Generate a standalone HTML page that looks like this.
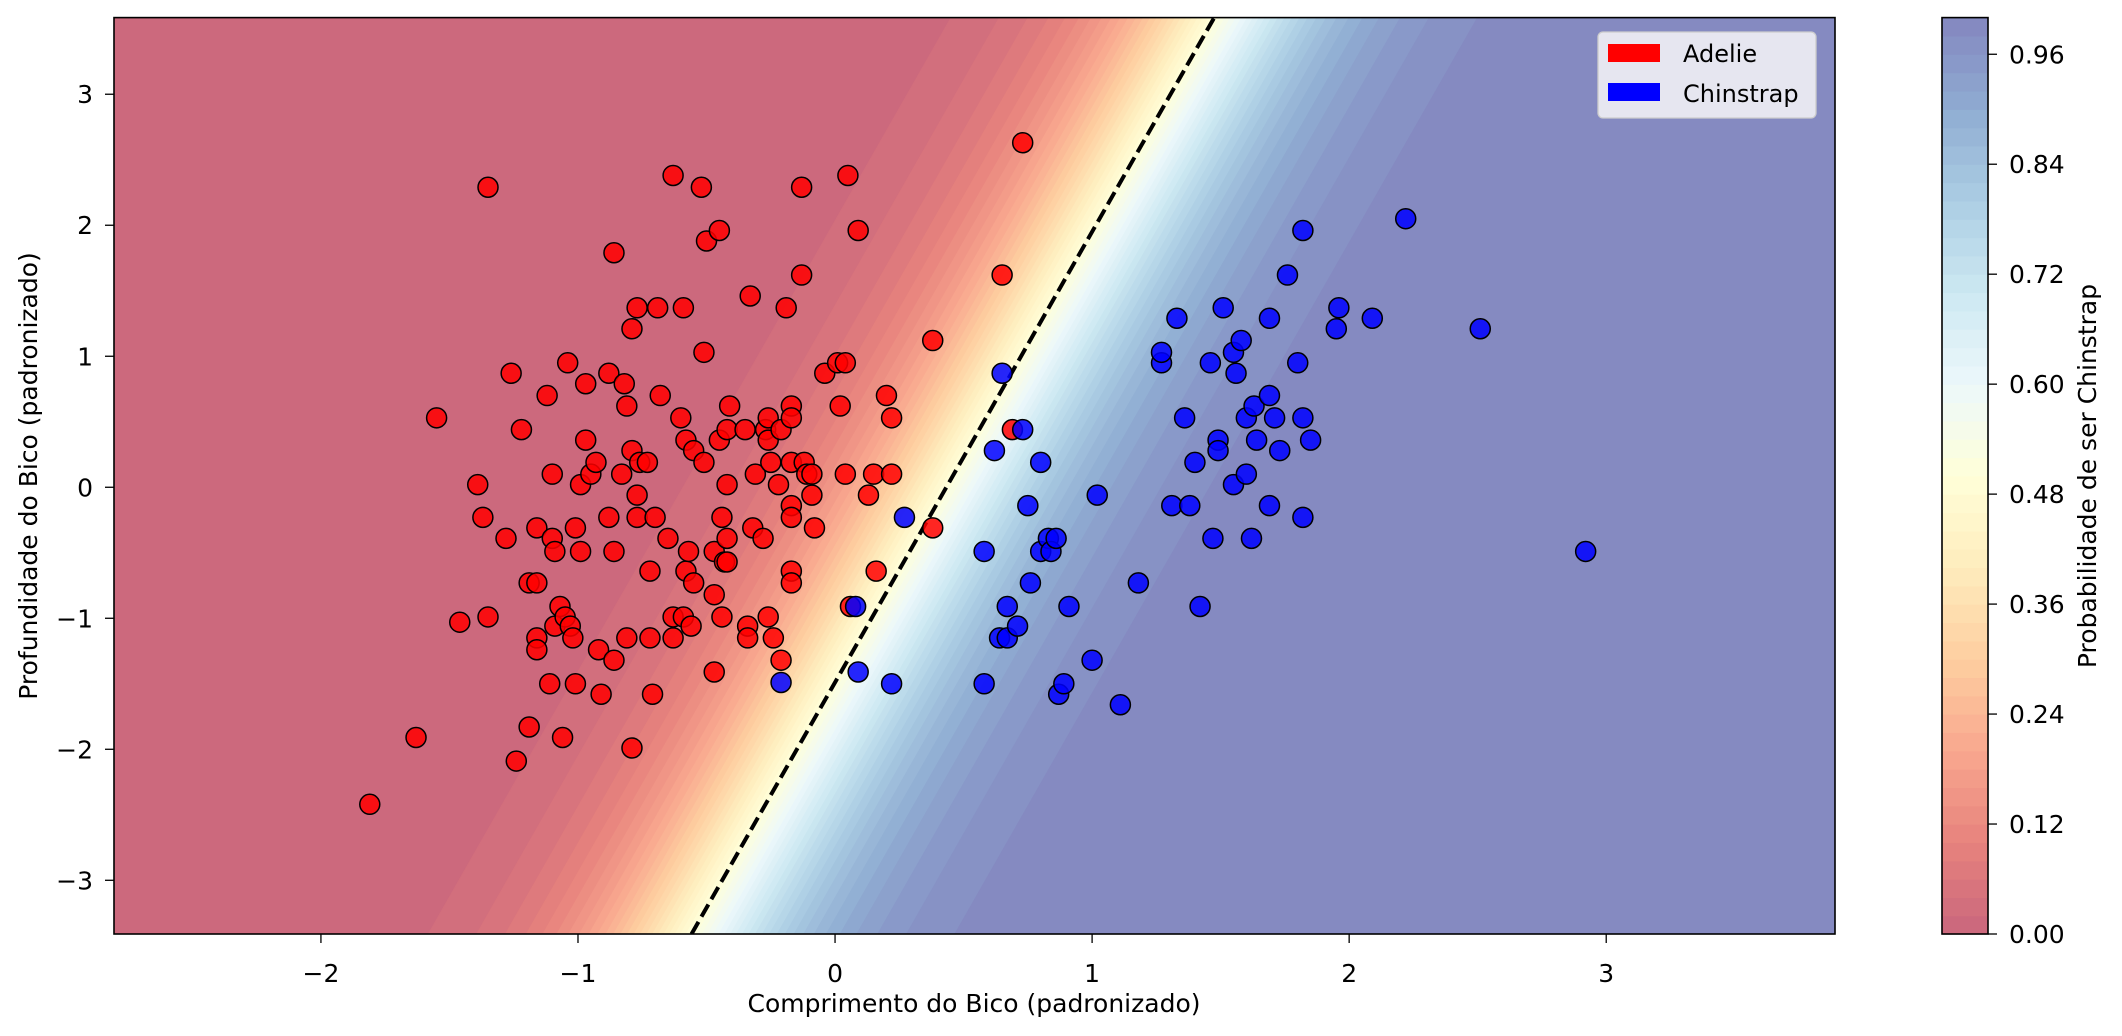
<!DOCTYPE html>
<html><head><meta charset="utf-8"><style>
html,body{margin:0;padding:0;background:#fff;}
svg{display:block;font-family:"DejaVu Sans","Liberation Sans",sans-serif;}
</style></head><body>
<svg id="chart" width="2122" height="1036" viewBox="0 0 2122 1036" xmlns="http://www.w3.org/2000/svg">
<defs><clipPath id="pc"><rect x="114" y="17.6" width="1721" height="916.4"/></clipPath></defs>
<g id="bg" clip-path="url(#pc)"></g>
<g id="pts" clip-path="url(#pc)"></g>
<g id="axes"></g>
<g id="cbar"></g>
<g>
<rect x="1598" y="32" width="218" height="86" rx="5" fill="#e6e6f0" stroke="#cccccc" stroke-width="1.3"/>
<rect x="1608" y="44" width="52" height="18" fill="#ff0000"/>
<text x="1683" y="62" font-size="24">Adelie</text>
<rect x="1608" y="83" width="52" height="18" fill="#0000ff"/>
<text x="1683" y="102" font-size="24">Chinstrap</text>
</g>
<text x="974" y="1012" font-size="25" text-anchor="middle">Comprimento do Bico (padronizado)</text>
<text transform="translate(37,476) rotate(-90)" font-size="25" text-anchor="middle">Profundidade do Bico (padronizado)</text>
<text transform="translate(2096,476) rotate(-90)" font-size="25" text-anchor="middle">Probabilidade de ser Chinstrap</text>
</svg>
<script>
const xTicks=[-2,-1,0,1,2,3];
const yTicks=[-3,-2,-1,0,1,2,3];
const cbTicks=[0,0.12,0.24,0.36,0.48,0.60,0.72,0.84,0.96];
const boundaryIntercept=0.433;
const boundarySlope=3.44;
const steepness=3.8;
const adelieX=[-1.81,-1.63,-1.55,-1.46,-1.39,-1.37,-1.35,-1.35,-1.28,-1.26,-1.24,-1.22,-1.19,-1.19,-1.16,-1.16,-1.16,-1.16,-1.12,-1.11,-1.10,-1.10,-1.09,-1.09,-1.07,-1.06,-1.05,-1.04,-1.03,-1.02,-1.01,-1.01,-0.99,-0.99,-0.97,-0.97,-0.95,-0.93,-0.92,-0.91,-0.88,-0.88,-0.86,-0.86,-0.86,-0.83,-0.82,-0.81,-0.81,-0.79,-0.79,-0.79,-0.77,-0.77,-0.77,-0.76,-0.73,-0.72,-0.72,-0.71,-0.70,-0.69,-0.68,-0.65,-0.63,-0.63,-0.63,-0.60,-0.59,-0.59,-0.58,-0.58,-0.57,-0.56,-0.55,-0.55,-0.52,-0.51,-0.51,-0.50,-0.47,-0.47,-0.47,-0.45,-0.45,-0.44,-0.44,-0.43,-0.42,-0.42,-0.42,-0.41,-0.42,-0.35,-0.34,-0.34,-0.33,-0.32,-0.31,-0.28,-0.27,-0.26,-0.26,-0.26,-0.25,-0.24,-0.22,-0.21,-0.21,-0.19,-0.17,-0.17,-0.17,-0.17,-0.17,-0.17,-0.17,-0.13,-0.13,-0.12,-0.11,-0.09,-0.08,-0.09,-0.04,0.01,0.02,0.04,0.04,0.05,0.06,0.09,0.13,0.15,0.16,0.20,0.22,0.22,0.38,0.38,0.65,0.69,0.73];
const adelieY=[-2.42,-1.91,0.53,-1.03,0.02,-0.23,-0.99,2.29,-0.39,0.87,-2.09,0.44,-0.73,-1.83,-0.73,-1.15,-1.24,-0.31,0.70,-1.50,0.10,-0.39,-1.06,-0.49,-0.91,-1.91,-0.99,0.95,-1.06,-1.15,-0.31,-1.50,0.02,-0.49,0.79,0.36,0.10,0.19,-1.24,-1.58,0.87,-0.23,-0.49,-1.32,1.79,0.10,0.79,-1.15,0.62,0.28,1.21,-1.99,1.37,-0.06,-0.23,0.19,0.19,-0.64,-1.15,-1.58,-0.23,1.37,0.70,-0.39,2.38,-1.15,-0.99,0.53,1.37,-0.99,-0.64,0.36,-0.49,-1.06,-0.73,0.28,2.29,1.03,0.19,1.88,-0.49,-1.41,-0.82,1.96,0.36,-0.23,-0.99,-0.57,0.44,0.02,-0.39,0.62,-0.57,0.44,-1.06,-1.15,1.46,-0.31,0.10,-0.39,0.44,-0.99,0.53,0.36,0.19,-1.15,0.02,0.44,-1.32,1.37,0.62,0.53,0.19,-0.14,-0.23,-0.64,-0.73,2.29,1.62,0.19,0.10,-0.06,-0.31,0.10,0.87,0.95,0.62,0.95,0.10,2.38,-0.91,1.96,-0.06,0.10,-0.64,0.70,0.53,0.10,1.12,-0.31,1.62,0.44,2.63];
const chinX=[-0.21,0.08,0.09,0.22,0.27,0.58,0.58,0.62,0.64,0.65,0.67,0.67,0.71,0.73,0.75,0.76,0.80,0.80,0.83,0.84,0.86,0.87,0.89,0.91,1.00,1.02,1.11,1.18,1.27,1.27,1.31,1.33,1.36,1.38,1.40,1.42,1.46,1.47,1.49,1.49,1.51,1.55,1.55,1.56,1.58,1.60,1.60,1.62,1.63,1.64,1.69,1.69,1.69,1.71,1.73,1.76,1.80,1.82,1.82,1.82,1.85,1.95,1.96,2.09,2.22,2.51,2.92];
const chinY=[-1.49,-0.91,-1.41,-1.50,-0.23,-0.49,-1.50,0.28,-1.15,0.87,-1.15,-0.91,-1.06,0.44,-0.14,-0.73,-0.49,0.19,-0.39,-0.49,-0.39,-1.58,-1.50,-0.91,-1.32,-0.06,-1.66,-0.73,0.95,1.03,-0.14,1.29,0.53,-0.14,0.19,-0.91,0.95,-0.39,0.36,0.28,1.37,0.02,1.03,0.87,1.12,0.10,0.53,-0.39,0.62,0.36,1.29,0.70,-0.14,0.53,0.28,1.62,0.95,1.96,0.53,-0.23,0.36,1.21,1.37,1.29,2.05,1.21,-0.49];

const NS='http://www.w3.org/2000/svg';
const X0=-2.805,X1=3.89,Y0=-3.41,Y1=3.585;
const PL=114,PR=1835,PT=17.6,PB=934;
function sx(x){return PL+(x-X0)/(X1-X0)*(PR-PL);}
function sy(y){return PB-(y-Y0)/(Y1-Y0)*(PB-PT);}
function mk(tag,attrs,parent){const e=document.createElementNS(NS,tag);for(const k in attrs)e.setAttribute(k,attrs[k]);parent.appendChild(e);return e;}
const cm=[[165,0,38],[215,48,39],[244,109,67],[253,174,97],[254,224,144],[255,255,191],[224,243,248],[171,217,233],[116,173,209],[69,117,180],[49,54,149]];
function cmap(t){t=Math.max(0,Math.min(1,t));const f=t*10,i=Math.min(9,Math.floor(f)),r=f-i;const c=cm[i].map((v,k)=>v+(cm[i+1][k]-v)*r).map(v=>Math.round(v*0.6+255*0.4));return 'rgb('+c.join(',')+')';}
function logit(p){if(p<=0)return -60;if(p>=1)return 60;return Math.log(p/(1-p));}
function bx(p,y){return boundaryIntercept+y/boundarySlope+logit(p)/steepness;}
const N=50;
const bg=document.getElementById('bg');
for(let i=0;i<N;i++){
 const p0=i/N,p1=(i+1)/N,col=cmap((i+0.5)/N);
 const pts=[[bx(p0,Y1),Y1],[bx(p1,Y1),Y1],[bx(p1,Y0),Y0],[bx(p0,Y0),Y0]].map(a=>sx(a[0]).toFixed(1)+','+sy(a[1]).toFixed(1)).join(' ');
 const e=mk('polygon',{points:pts,fill:col,stroke:col,'stroke-width':0.8},bg);
 
 
}
const dl=mk('line',{x1:sx(bx(0.5,Y0)),y1:sy(Y0),x2:sx(bx(0.5,Y1)),y2:sy(Y1),stroke:'#000','stroke-width':4,'stroke-dasharray':'14,6'},bg);


const pg=document.getElementById('pts');
function drawPts(xs,ys,fill,name){for(let i=0;i<xs.length;i++){const c=mk('circle',{cx:sx(xs[i]),cy:sy(ys[i]),r:10,fill:fill,'fill-opacity':0.85,stroke:'#000','stroke-width':1.5},pg);
 
 }}
drawPts(adelieX,adelieY,'#ff0000','adelie-point');
drawPts(chinX,chinY,'#0000ff','chinstrap-point');
const ax=document.getElementById('axes');
const fr=mk('rect',{x:PL,y:PT,width:PR-PL,height:PB-PT,fill:'none',stroke:'#000','stroke-width':1.6},ax);


xTicks.forEach(t=>{const x=sx(t);mk('line',{x1:x,y1:PB,x2:x,y2:PB+9,stroke:'#000','stroke-width':1.3},ax);
 const tx=mk('text',{x:x,y:PB+48,'font-size':25,'text-anchor':'middle'},ax);tx.textContent=(t<0?'\u2212'+(-t):t);
 
 });
yTicks.forEach(t=>{const y=sy(t);mk('line',{x1:PL-9,y1:y,x2:PL,y2:y,stroke:'#000','stroke-width':1.3},ax);
 const tx=mk('text',{x:PL-21,y:y+9,'font-size':25,'text-anchor':'end'},ax);tx.textContent=(t<0?'\u2212'+(-t):t);
 
 });
const cb=document.getElementById('cbar');
const CL=1942,CR=1988;
function cy(v){return PB-v*(PB-PT);}
for(let i=0;i<N;i++){const r=mk('rect',{x:CL,y:cy((i+1)/N),width:CR-CL,height:cy(i/N)-cy((i+1)/N)+0.6,fill:cmap((i+0.5)/N)},cb);
 
 }
mk('rect',{x:CL,y:PT,width:CR-CL,height:PB-PT,fill:'none',stroke:'#000','stroke-width':1.6},cb);
cbTicks.forEach(t=>{const y=cy(t);mk('line',{x1:CR,y1:y,x2:CR+9,y2:y,stroke:'#000','stroke-width':1.3},cb);
 const tx=mk('text',{x:CR+21,y:y+9,'font-size':25},cb);tx.textContent=t.toFixed(2);
 
 });
</script>
</body></html>
